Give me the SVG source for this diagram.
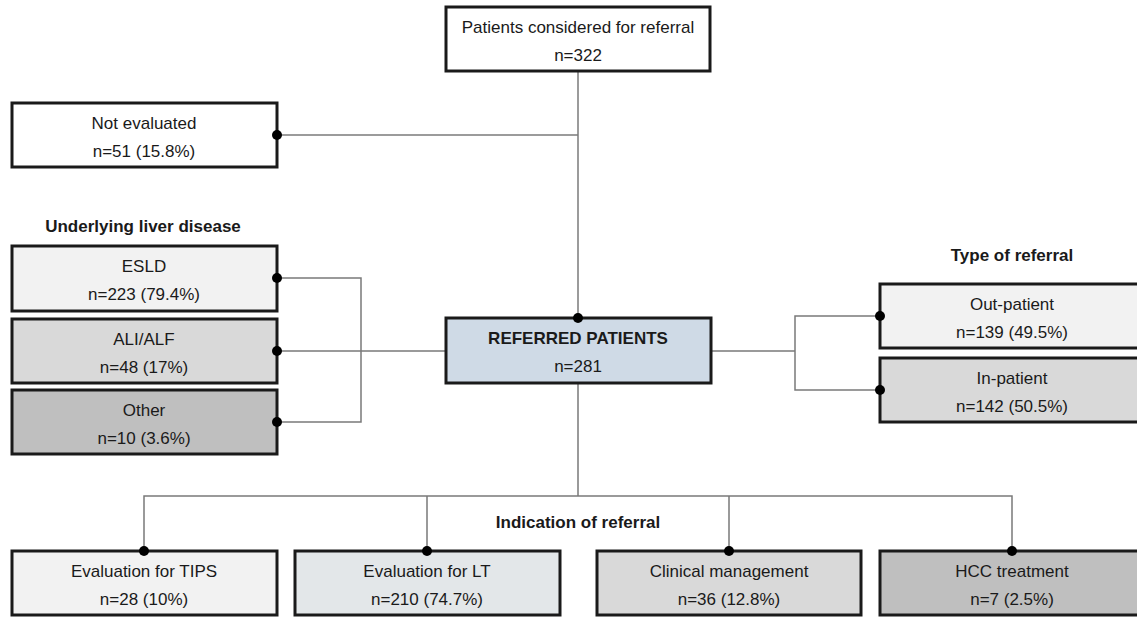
<svg xmlns="http://www.w3.org/2000/svg" width="1137" height="617" viewBox="0 0 1137 617">
<style>
.box{stroke:#1a1a1a;stroke-width:3}
.t{font-family:"Liberation Sans",Arial,Helvetica,sans-serif;font-size:17px;fill:#1a1a1a;text-anchor:middle}
.b{font-weight:bold}
.ln{stroke:#7a7a7a;stroke-width:1.5;fill:none}
.dot{fill:#000}
</style>
<rect width="1137" height="617" fill="#ffffff"/>
<g id="connectors">
<path class="ln" d="M578 71V318"/>
<path class="ln" d="M277 135H578"/>
<path class="ln" d="M277 278H361V422H277M277 351H445"/>
<path class="ln" d="M711 351H795M880 316H795V390H880"/>
<path class="ln" d="M578 383V496M144 551V496H1012V551M427 496V551M729 496V551"/>
</g>
<g id="labels">
<text class="t b" x="143" y="232">Underlying liver disease</text>
<text class="t b" x="1012" y="261">Type of referral</text>
<text class="t b" x="578" y="528">Indication of referral</text>
</g>
<g id="considered">
<rect class="box" x="446" y="7" width="264" height="64" fill="#ffffff"/>
<text class="t" x="578" y="33">Patients considered for referral</text>
<text class="t" x="578" y="61">n=322</text>
</g>
<g id="not-evaluated">
<rect class="box" x="12" y="103" width="265" height="64" fill="#ffffff"/>
<text class="t" x="144" y="129">Not evaluated</text>
<text class="t" x="144" y="157">n=51 (15.8%)</text>
</g>
<g id="esld">
<rect class="box" x="12" y="246" width="265" height="65" fill="#f2f2f2"/>
<text class="t" x="144" y="272">ESLD</text>
<text class="t" x="144" y="300">n=223 (79.4%)</text>
</g>
<g id="ali-alf">
<rect class="box" x="12" y="319" width="265" height="64" fill="#d9d9d9"/>
<text class="t" x="144" y="345">ALI/ALF</text>
<text class="t" x="144" y="373">n=48 (17%)</text>
</g>
<g id="other">
<rect class="box" x="12" y="390" width="265" height="64" fill="#bfbfbf"/>
<text class="t" x="144" y="416">Other</text>
<text class="t" x="144" y="444">n=10 (3.6%)</text>
</g>
<g id="referred">
<rect class="box" x="446" y="318" width="265" height="65" fill="#cfdae6"/>
<text class="t b" x="578" y="344">REFERRED PATIENTS</text>
<text class="t" x="578" y="372">n=281</text>
</g>
<g id="out-patient">
<rect class="box" x="880" y="284" width="265" height="64" fill="#f2f2f2"/>
<text class="t" x="1012" y="310">Out-patient</text>
<text class="t" x="1012" y="338">n=139 (49.5%)</text>
</g>
<g id="in-patient">
<rect class="box" x="880" y="358" width="265" height="64" fill="#d9d9d9"/>
<text class="t" x="1012" y="384">In-patient</text>
<text class="t" x="1012" y="412">n=142 (50.5%)</text>
</g>
<g id="tips">
<rect class="box" x="12" y="551" width="265" height="64" fill="#f2f2f2"/>
<text class="t" x="144" y="577">Evaluation for TIPS</text>
<text class="t" x="144" y="605">n=28 (10%)</text>
</g>
<g id="lt">
<rect class="box" x="295" y="551" width="265" height="64" fill="#e3e7e9"/>
<text class="t" x="427" y="577">Evaluation for LT</text>
<text class="t" x="427" y="605">n=210 (74.7%)</text>
</g>
<g id="clinical">
<rect class="box" x="597" y="551" width="264" height="64" fill="#d9d9d9"/>
<text class="t" x="729" y="577">Clinical management</text>
<text class="t" x="729" y="605">n=36 (12.8%)</text>
</g>
<g id="hcc">
<rect class="box" x="880" y="551" width="265" height="64" fill="#bfbfbf"/>
<text class="t" x="1012" y="577">HCC treatment</text>
<text class="t" x="1012" y="605">n=7 (2.5%)</text>
</g>
<g id="connector-dots">
<circle class="dot" cx="277" cy="135" r="5"/>
<circle class="dot" cx="578" cy="318" r="5"/>
<circle class="dot" cx="277" cy="278" r="5"/>
<circle class="dot" cx="277" cy="351" r="5"/>
<circle class="dot" cx="277" cy="422" r="5"/>
<circle class="dot" cx="880" cy="316" r="5"/>
<circle class="dot" cx="880" cy="390" r="5"/>
<circle class="dot" cx="144" cy="551" r="5"/>
<circle class="dot" cx="427" cy="551" r="5"/>
<circle class="dot" cx="729" cy="551" r="5"/>
<circle class="dot" cx="1012" cy="551" r="5"/>
</g>
</svg>
